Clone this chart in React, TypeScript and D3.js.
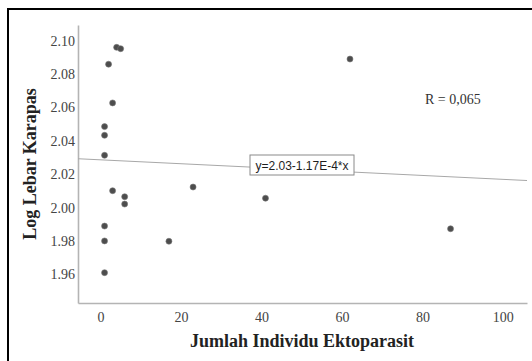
import { useEffect, useRef } from 'react'
import * as d3 from 'd3'

// data
const ektoparasit = [4, 5, 2, 3, 1, 1, 1, 3, 6, 6, 1, 1, 1, 17, 23, 41, 87, 62]
const logLebar = [2.096, 2.0952, 2.0859, 2.0627, 2.0485, 2.0433, 2.0313, 2.0101, 2.0065, 2.0021, 1.9889, 1.98, 1.961, 1.9798, 2.0123, 2.0056, 1.9873, 2.089]
const xTicks = [0, 20, 40, 60, 80, 100]
const yTicks = [1.96, 1.98, 2.0, 2.02, 2.04, 2.06, 2.08, 2.1]
const fitIntercept = 2.0286
const fitSlope = -1.17e-4
const fitLabel = 'y=2.03-1.17E-4*x'
const rLabel = 'R = 0,065'

const W = 532, H = 361
const serif = 'Liberation Serif, Times New Roman, serif'

export default function App() {
  const ref = useRef<SVGSVGElement>(null)

  useEffect(() => {
    const svg = d3.select(ref.current)
    svg.selectAll('*').remove()

    const x = d3.scaleLinear().domain([-5.6, 106]).range([78, 527])
    const y = d3.scaleLinear().domain([1.9428, 2.1094]).range([303, 25])

    svg.append('rect').attr('width', W).attr('height', H).attr('fill', '#fff')

    // frame (left + top only)
    svg.append('line').attr('x1', 8).attr('x2', 8).attr('y1', 8).attr('y2', H)
      .attr('stroke', '#000').attr('stroke-width', 2)
    svg.append('line').attr('x1', 7).attr('x2', W).attr('y1', 9).attr('y2', 9)
      .attr('stroke', '#000').attr('stroke-width', 2)

    const styleAxis = (a: any) => {
      a.select('.domain').attr('stroke', '#b4b4b4').attr('stroke-width', 1.6)
      a.selectAll('.tick text').attr('fill', '#444').attr('font-size', '14px').style('font-family', serif)
    }

    svg.append('g').attr('transform', `translate(0,${y.range()[0]})`)
      .call(d3.axisBottom(x).tickValues(xTicks).tickSize(0).tickPadding(9).tickFormat(d3.format('d')))
      .call(styleAxis)
    svg.append('g').attr('transform', `translate(${x.range()[0]},0)`)
      .call(d3.axisLeft(y).tickValues(yTicks).tickSize(0).tickPadding(3).tickFormat(d3.format('.2f')))
      .call(styleAxis)

    // fit line
    const [x0, x1] = x.domain()
    svg.append('line')
      .attr('x1', x(x0)).attr('y1', y(fitIntercept + fitSlope * x0))
      .attr('x2', x(x1)).attr('y2', y(fitIntercept + fitSlope * x1))
      .attr('stroke', '#a8a8a8').attr('stroke-width', 1)

    // points
    svg.append('g').selectAll('circle').data(ektoparasit).join('circle')
      .attr('cx', d => x(d)).attr('cy', (_, i) => y(logLebar[i])).attr('r', 3)
      .attr('fill', '#4d4d4d').attr('stroke', '#777').attr('stroke-width', 0.6)

    // equation box
    const bx = 250, by = 155
    svg.append('rect').attr('x', bx).attr('y', by).attr('width', 104).attr('height', 20)
      .attr('fill', '#fff').attr('stroke', '#8a8a8a').attr('stroke-width', 1)
    svg.append('text').attr('x', bx + 52).attr('y', by + 14.5).attr('text-anchor', 'middle')
      .style('font-family', 'Liberation Sans, Arial, sans-serif').attr('font-size', '12px')
      .attr('fill', '#1e1e1e').text(fitLabel)

    svg.append('text').attr('x', 425).attr('y', 104).style('font-family', serif)
      .attr('font-size', '14px').attr('fill', '#333').text(rLabel)

    // axis titles
    svg.append('text').attr('x', 302).attr('y', 347).attr('text-anchor', 'middle')
      .style('font-family', serif).attr('font-weight', 'bold').attr('font-size', '18px')
      .attr('fill', '#222').text('Jumlah Individu Ektoparasit')
    svg.append('text').attr('transform', 'translate(36,164) rotate(-90)').attr('text-anchor', 'middle')
      .style('font-family', serif).attr('font-weight', 'bold').attr('font-size', '18px')
      .attr('fill', '#222').text('Log Lebar Karapas')
  }, [])

  return (
    <svg ref={ref} width={W} height={H}
      style={{ position: 'absolute', left: 0, top: 0, display: 'block' }} />
  )
}
